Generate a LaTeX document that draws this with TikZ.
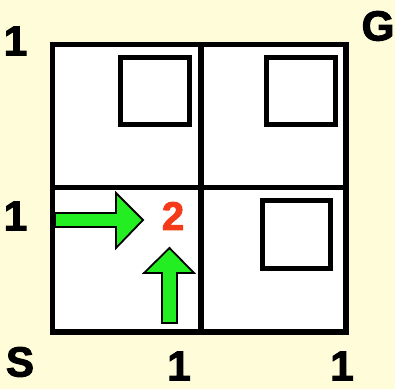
\documentclass[tikz,border=0pt]{standalone}
\usepackage{fontspec}
\newfontfamily\lab{Liberation Sans}[BoldFeatures={FakeBold=2.5}]
\definecolor{bgyellow}{HTML}{FFFDD9}
\definecolor{arrowgreen}{HTML}{22EE22}
\definecolor{numred}{HTML}{F53A1A}
\tikzset{
  gridline/.style={line width=5.5pt, draw=black, line join=miter},
  box/.style={line width=5.5pt, draw=black},
  blockarrow/.style={fill=arrowgreen, draw=black, line width=1.8pt, line join=miter},
  lbl/.style={inner sep=0pt, anchor=center, font=\lab\bfseries\fontsize{42}{42}\selectfont},
  val/.style={inner sep=0pt, anchor=center, text=numred, font=\lab\bfseries\fontsize{40}{40}\selectfont}
}
\begin{document}
\begin{tikzpicture}[x=1pt,y=-1pt]
  \fill[bgyellow] (0,0) rectangle (395,389);
  \useasboundingbox (0,0) rectangle (395,389);
  % grid
  \fill[white] (52.5,44.5) rectangle (346,332);
  \draw[gridline] (52.5,44.5) rectangle (346,332);
  \draw[gridline] (201,44.5) -- (201,332);
  \draw[gridline] (52.5,187.5) -- (346,187.5);
  % walls / boxes
  \draw[box] (120.5,57.5) rectangle (189.5,124.5);
  \draw[box] (266.5,57.5) rectangle (335.5,124.5);
  \draw[box] (262.5,200.5) rectangle (330.5,268.5);
  % value
  \node[val] (v) at (173,216) {2};
  % arrows
  \draw[blockarrow] (55,213) -- (116,213) -- (116,193) -- (143,220) -- (116,248) -- (116,227) -- (55,227) -- cycle;
  \draw[blockarrow] (162,323) -- (162,273) -- (144,273) -- (169.5,248) -- (194,273) -- (177,273) -- (177,323) -- cycle;
  % labels
  \node[lbl] (l1) at (15.5,41) {1};
  \node[lbl] (l2) at (15.5,216) {1};
  \node[lbl] (s) at (20,362) {S};
  \node[lbl] (g) at (378,26) {G};
  \node[lbl] (b1) at (179,366) {1};
  \node[lbl] (b2) at (342,366) {1};
\end{tikzpicture}
\end{document}
